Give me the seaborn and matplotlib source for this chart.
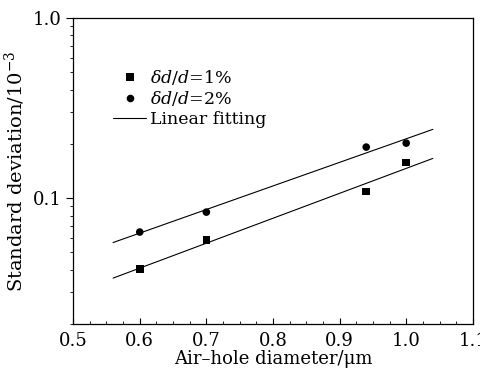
import numpy as np
import pandas as pd
import matplotlib
matplotlib.use("Agg")
import matplotlib.pyplot as plt
import seaborn as sns
from matplotlib.ticker import MultipleLocator, LogLocator, FixedLocator, NullFormatter

# dados
diametro = [0.6, 0.7, 0.94, 1.0]
desvio_1 = [0.0403, 0.0584, 0.109, 0.158]
desvio_2 = [0.0648, 0.0836, 0.192, 0.202]
x_ajuste = [0.56, 1.04]

sns.set_theme(style="ticks")
plt.rcParams['font.family'] = ['DejaVu Serif']
plt.rcParams['mathtext.fontset'] = 'dejavuserif'
plt.rcParams['text.color'] = 'black'
plt.rcParams['axes.labelcolor'] = 'black'
plt.rcParams['xtick.color'] = 'black'
plt.rcParams['ytick.color'] = 'black'

fig = plt.figure(figsize=(4.81, 3.75), dpi=100)
ax = fig.add_axes([0.152, 0.136, 0.831, 0.816])

df = pd.DataFrame({
    'd': diametro * 2,
    's': desvio_1 + desvio_2,
    'serie': [r'$\delta d/d$=1%'] * 4 + [r'$\delta d/d$=2%'] * 4,
})

sns.scatterplot(data=df, x='d', y='s', hue='serie', style='serie',
                markers={r'$\delta d/d$=1%': 's', r'$\delta d/d$=2%': 'o'},
                palette=['black', 'black'], s=30, edgecolor='black', linewidth=0,
                ax=ax)

# ajuste linear em escala log
xs = np.array(x_ajuste)
for i, ys in enumerate([desvio_1, desvio_2]):
    c = np.polyfit(diametro, np.log10(ys), 1)
    sns.lineplot(x=xs, y=10 ** np.polyval(c, xs), color='black', lw=0.8,
                 ax=ax, label='Linear fitting' if i == 0 else None)

ax.set_yscale('log')
ax.set_xlim(0.5, 1.1)
ax.set_ylim(0.02, 1.0)
ax.xaxis.set_major_locator(MultipleLocator(0.1))
ax.xaxis.set_minor_locator(MultipleLocator(0.025))
ax.yaxis.set_major_locator(FixedLocator([0.1, 1.0]))
ax.yaxis.set_major_formatter(plt.FuncFormatter(lambda v, p: f'{v:.1f}'))
ax.yaxis.set_minor_locator(LogLocator(base=10, subs=np.arange(2, 10)))
ax.yaxis.set_minor_formatter(NullFormatter())
ax.xaxis.set_major_formatter(plt.FuncFormatter(lambda v, p: f'{v:.1f}'))

ax.tick_params(axis='x', which='major', direction='in', length=4, width=0.8, labelsize=13, pad=6)
ax.tick_params(axis='x', which='minor', direction='in', length=2, width=0.6)
ax.tick_params(axis='y', which='major', direction='out', length=5, width=0.8, labelsize=13)
ax.tick_params(axis='y', which='minor', direction='out', length=2, width=0.6)
for sp in ax.spines.values():
    sp.set_linewidth(0.9)
    sp.set_color('black')

ax.set_xlabel('Air\u2013hole diameter/\u03bcm', fontsize=13, labelpad=0)
ax.set_ylabel('Standard deviation/10$^{-3}$', fontsize=14, labelpad=4)

ax.legend(loc='upper left', bbox_to_anchor=(0.083, 0.86), frameon=False, fontsize=12.5,
          handlelength=1.9, handletextpad=0.2, labelspacing=0.15, borderaxespad=0)

fig.savefig('out.png', dpi=100)
